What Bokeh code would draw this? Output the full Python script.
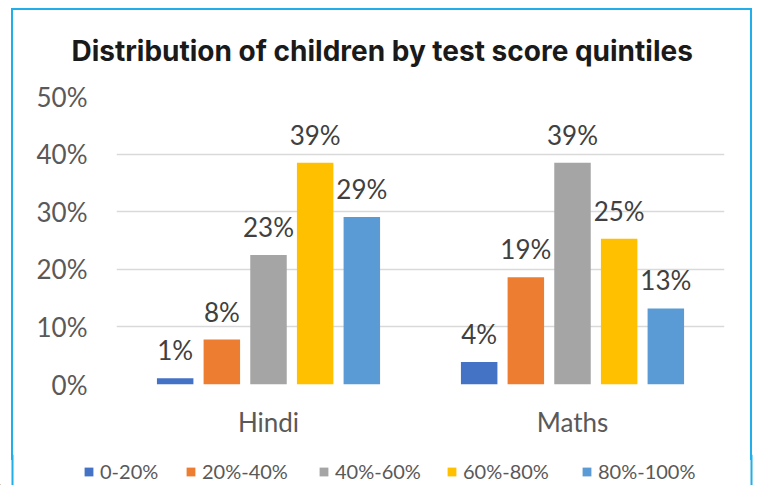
from bokeh.plotting import figure
from bokeh.models import (ColumnDataSource, FactorRange, Range1d, Legend, LegendItem,
                          FixedTicker, PrintfTickFormatter, Span)
from bokeh.transform import dodge
from bokeh.core.properties import value
from bokeh.embed import file_html
from bokeh.resources import INLINE

# ---- data ----
categories = ["Hindi", "Maths"]
quintiles = ["0-20%", "20%-40%", "40%-60%", "60%-80%", "80%-100%"]
hindi_vals = [1.1, 7.8, 22.5, 38.5, 29.1]
maths_vals = [3.9, 18.6, 38.5, 25.3, 13.2]
hindi_labels = ["1%", "8%", "23%", "39%", "29%"]
maths_labels = ["4%", "19%", "39%", "25%", "13%"]
y_ticks = [0, 10, 20, 30, 40, 50]
colors = ["#4472C4", "#ED7D31", "#A5A5A5", "#FFC000", "#5B9BD5"]

title_text = "Distribution of children by test score quintiles"
border_color = "#22aee8"

W = 762
H_MAIN = 460
H_LEG = 31
legend_x = [83, 185, 318, 446, 581]   # legend item left edges (px)

p = figure(width=W, height=H_MAIN,
           x_range=FactorRange(*categories, range_padding=0),
           y_range=Range1d(0, 50),
           output_backend="svg", toolbar_location=None,
           min_border_left=116, min_border_right=38,
           min_border_top=96, min_border_bottom=76)

p.outline_line_color = None
p.background_fill_color = "white"
p.border_fill_color = None

step = 0.1535
bar_w = 0.12
for i, q in enumerate(quintiles):
    src = ColumnDataSource(dict(cat=categories,
                                top=[hindi_vals[i], maths_vals[i]],
                                lab=[hindi_labels[i], maths_labels[i]]))
    off = (i - 2) * step
    p.vbar(x=dodge("cat", off, range=p.x_range), top="top", width=bar_w,
           source=src, fill_color=colors[i], line_color=None)
    p.text(x=dodge("cat", off, range=p.x_range), y="top", text="lab", source=src,
           text_align="center", text_baseline="alphabetic", y_offset=-28,
           text_font=value("Lato"), text_font_size="26px", text_color="#404040")

# axes
p.yaxis.ticker = FixedTicker(ticks=y_ticks)
p.yaxis.formatter = PrintfTickFormatter(format="%d%%")
p.yaxis.axis_line_color = None
p.yaxis.major_tick_line_color = None
p.yaxis.minor_tick_line_color = None
p.yaxis.major_tick_out = 0
p.yaxis.major_label_standoff = 29
p.yaxis.major_label_text_font = "Lato"
p.yaxis.major_label_text_font_size = "26px"
p.yaxis.major_label_text_color = "#595959"

p.xaxis.axis_line_color = None
p.xaxis.major_tick_line_color = None
p.xaxis.major_tick_out = 0
p.xaxis.axis_label_standoff = 0
p.xaxis.major_label_standoff = 21
p.xaxis.major_label_text_font = "Lato"
p.xaxis.major_label_text_font_size = "26px"
p.xaxis.major_label_text_color = "#595959"

p.xgrid.grid_line_color = None
p.ygrid.ticker = FixedTicker(ticks=y_ticks)
p.ygrid.grid_line_color = "#d9d9d9"
p.ygrid.grid_line_width = 1.5

# title
p.title.text = title_text
p.title.align = "left"
p.title.offset = -45
p.title.standoff = 58
p.title.text_font = "Inter"
p.title.text_font_size = "28px"
p.title.text_font_style = "bold"
p.title.text_color = "#1a1a1a"

# ---- legend strip below the chart (separate root, not frame-aligned) ----
lf = figure(width=W, height=H_LEG, x_range=Range1d(0, W), y_range=Range1d(0, H_LEG),
            output_backend="svg", toolbar_location=None,
            x_axis_location=None, y_axis_location=None,
            min_border=0, min_border_left=0, min_border_right=0,
            min_border_top=0, min_border_bottom=0)
lf.title.visible = False
lf.title.standoff = 0
lf.title.text_font_size = "0px"
lf.grid.visible = False
lf.outline_line_color = None
lf.background_fill_color = None
lf.border_fill_color = None

# continuation of the chart's light-blue frame (left and right sides)
lf.add_layout(Span(location=12, dimension="height", line_color=border_color, line_width=2))
lf.add_layout(Span(location=751, dimension="height", line_color=border_color, line_width=2))

for i, q in enumerate(quintiles):
    # a hidden swatch renderer (outside the visible range) that gives the legend its colour
    r = lf.vbar(x=[-100], top=[1], width=1, fill_color=colors[i], line_color=None)
    lg = Legend(items=[LegendItem(label=q, renderers=[r])],
                orientation="horizontal", location=(legend_x[i], 2),
                glyph_width=11, glyph_height=11, label_standoff=6, spacing=0,
                padding=0, margin=0, border_line_color=None,
                background_fill_alpha=0,
                label_text_font="Lato", label_text_font_size="20px",
                label_text_color="#595959")
    lf.add_layout(lg, "center")

grad = "linear-gradient(%s,%s)" % (border_color, border_color)
p.styles = {
    "vertical-align": "top",
    "background-image": ", ".join([grad, grad, grad]),
    "background-size": "2px 460px, 741px 2px, 2px 460px",
    "background-position": "11px 8px, 11px 8px, 750px 8px",
    "background-repeat": "no-repeat",
}
lf.styles = {"vertical-align": "top", "margin-top": "-6px"}

open("out.html", "w").write(file_html([p, lf], INLINE))
